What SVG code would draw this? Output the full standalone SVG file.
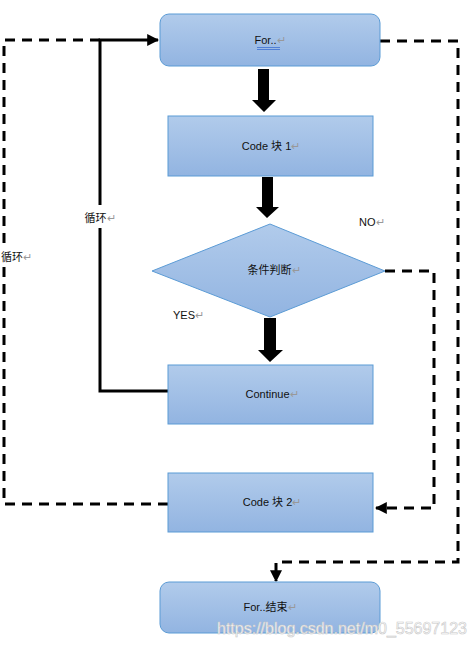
<svg xmlns="http://www.w3.org/2000/svg" width="473" height="647" viewBox="0 0 473 647">
<defs>
<linearGradient id="g" x1="0" y1="0" x2="0" y2="1">
<stop offset="0" stop-color="#b1cbeb"/>
<stop offset="1" stop-color="#92b4e1"/>
</linearGradient>
<marker id="ah" viewBox="0 0 10 10" refX="9" refY="5" markerWidth="4" markerHeight="4" markerUnits="strokeWidth" orient="auto">
<path d="M0,0 L10,5 L0,10 Z" fill="#000"/>
</marker>
<marker id="ahd" viewBox="0 0 10 10" refX="9" refY="5" markerWidth="4" markerHeight="4" markerUnits="strokeWidth" orient="auto">
<path d="M0,0 L10,5 L0,10 Z" fill="#000"/>
</marker>
</defs>
<style>
.box{fill:url(#g);stroke:#5b9bd5;stroke-width:1}
.t{font-family:"Liberation Sans","Noto Sans CJK SC",sans-serif;font-size:11px;fill:#111;text-anchor:middle}
.tl{font-family:"Liberation Sans","Noto Sans CJK SC",sans-serif;font-size:11px;fill:#111}
.p{fill:#999}
.solid{fill:none;stroke:#000;stroke-width:3}
.dash{fill:none;stroke:#000;stroke-width:3;stroke-dasharray:10 7}
.big{fill:#000}
</style>
<rect width="473" height="647" fill="#fff"/>

<g id="connectors">
<path class="big" d="M258,69 H269 V100 H276 L264,112 L252,100 H258 Z"/>
<path class="big" d="M262,177 H273 V207 H279 L267,218 L256,207 H262 Z"/>
<path class="big" d="M264,318 H276 V350 H283 L270,362 L258,350 H264 Z"/>
<path class="solid" d="M168,391 H100 V228"/>
<path class="solid" d="M100,205 V40 H158" marker-end="url(#ah)"/>
<path class="dash" d="M168,504 H4 V40 H100"/>
<path class="dash" d="M385,271 H434 V508 H376" marker-end="url(#ahd)"/>
<path class="dash" d="M380,41 H458 V562 H276 V581" marker-end="url(#ahd)"/>
</g>

<g id="label-loop1">
<text class="t" x="100" y="222">循环<tspan class="p">↵</tspan></text>
</g>
<g id="label-loop2">
<rect x="0" y="245" width="30" height="20" fill="#fff"/>
<text class="tl" x="1" y="261">循环<tspan class="p">↵</tspan></text>
</g>
<g id="label-no">
<text class="tl" x="359" y="226">NO<tspan class="p">↵</tspan></text>
</g>
<g id="label-yes">
<text class="tl" x="173" y="319">YES<tspan class="p">↵</tspan></text>
</g>

<g id="for">
<rect class="box" x="160" y="14" width="220" height="52" rx="9"/>
<text class="t" x="270" y="44">For..<tspan class="p">↵</tspan></text>
<path d="M257,47.5 H280 M257,49.5 H280" stroke="#4f7fd6" stroke-width="1"/>
</g>

<g id="code1">
<rect class="box" x="168" y="116" width="205" height="60"/>
<text class="t" x="271" y="150">Code 块 1<tspan class="p">↵</tspan></text>
</g>

<g id="cond">
<path class="box" d="M270,224 L385,271 L270,317 L152,271 Z"/>
<text class="t" x="274" y="274">条件判断<tspan class="p">↵</tspan></text>
</g>

<g id="continue">
<rect class="box" x="168" y="365" width="205" height="59"/>
<text class="t" x="272" y="398">Continue<tspan class="p">↵</tspan></text>
</g>

<g id="code2">
<rect class="box" x="168" y="473" width="205" height="59"/>
<text class="t" x="272" y="506">Code 块 2<tspan class="p">↵</tspan></text>
</g>

<g id="forend">
<rect class="box" x="160" y="582" width="220" height="51" rx="9"/>
<text class="t" x="270" y="611">For..结束<tspan class="p">↵</tspan></text>
</g>

<g id="watermark">
<text x="217" y="634" font-family="Liberation Sans, sans-serif" font-size="16" fill="#fff" stroke="#c8c8c8" stroke-width="0.6">https://blog.csdn.net/m0_55697123</text>
</g>
</svg>
